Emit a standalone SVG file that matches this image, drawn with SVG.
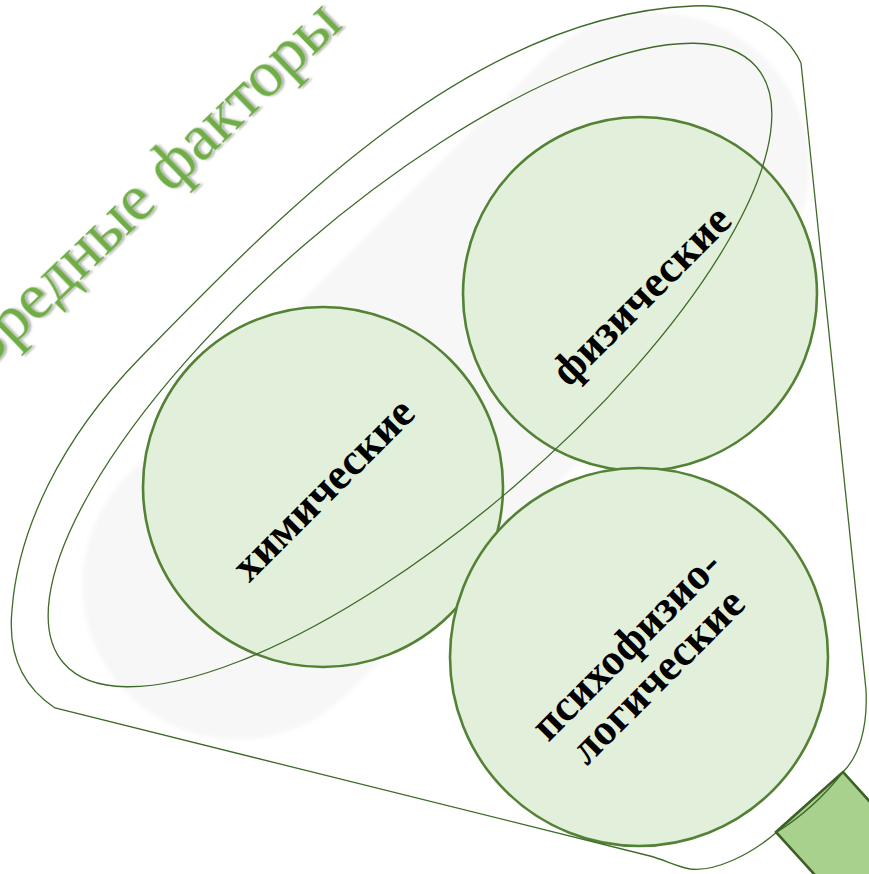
<svg xmlns="http://www.w3.org/2000/svg" width="869" height="874" viewBox="0 0 869 874">
<defs>
<style>
.line{fill:none;stroke:#3E6B27;stroke-width:1.3}
.circ{fill:#E2EFDA;stroke:#548235;stroke-width:2.6}
.lbl{font-family:"Liberation Serif","DejaVu Serif",serif;font-weight:bold;font-size:44px;fill:#000;text-anchor:middle;dominant-baseline:central}
.title{font-family:"Liberation Serif","DejaVu Serif",serif;font-size:66px;fill:#70AD47;text-anchor:end}
</style>
<filter id="sh" x="-10%" y="-10%" width="120%" height="120%">
<feDropShadow dx="2" dy="2" stdDeviation="1.2" flood-color="#000" flood-opacity="0.3"/>
</filter>
<filter id="soft" x="-5%" y="-5%" width="110%" height="110%">
<feGaussianBlur stdDeviation="2"/>
</filter>
</defs>
<rect width="869" height="874" fill="#fff"/>
<g id="shadow">
<rect x="-450" y="-155" width="900" height="310" rx="155" fill="#F7F7F7" transform="translate(446,376) rotate(-45)" filter="url(#soft)"/>
</g>
<g id="circle-chem"><circle class="circ" cx="323" cy="487" r="180"/></g>
<g id="circle-phys"><circle class="circ" cx="640" cy="294" r="177"/></g>
<g id="circle-psy"><circle class="circ" cx="639" cy="657" r="189"/></g>
<g id="inner-ellipse">
<ellipse class="line" cx="410" cy="365" rx="457" ry="160" transform="rotate(-40.7 410 365)"/>
</g>
<g id="handle">
<polygon points="776,832 843,772 977,920 910,980" fill="#A9D18E" stroke="#3B5F24" stroke-width="2.6" stroke-linejoin="miter"/>
</g>
<g id="funnel">
<path class="line" d="M 55 708 C 20 685, 8 650, 12 610 C 18 530, 60 440, 140 358 C 280 215, 470 15, 693 6 C 745 3, 785 30, 801 63 L 866 690 C 868 730, 858 757, 843 772 Q 815 808, 777 832 C 750 855, 715 872, 690 869 C 675 866, 665 860, 650 856 Z"/>
</g>
<g id="connectors"/>
<g id="label-chem"><text class="lbl" transform="translate(323,489) rotate(-45)">химические</text></g>
<g id="label-phys"><text class="lbl" transform="translate(641,295) rotate(-45)">физические</text></g>
<g id="label-psy">
<text class="lbl" transform="translate(641,660) rotate(-45)"><tspan x="0" y="-22">психофизио-</tspan><tspan x="0" y="22">логические</tspan></text>
</g>
<g id="title"><text class="title" filter="url(#sh)" transform="translate(344,26) rotate(-44)">Вредные факторы</text></g>
</svg>
